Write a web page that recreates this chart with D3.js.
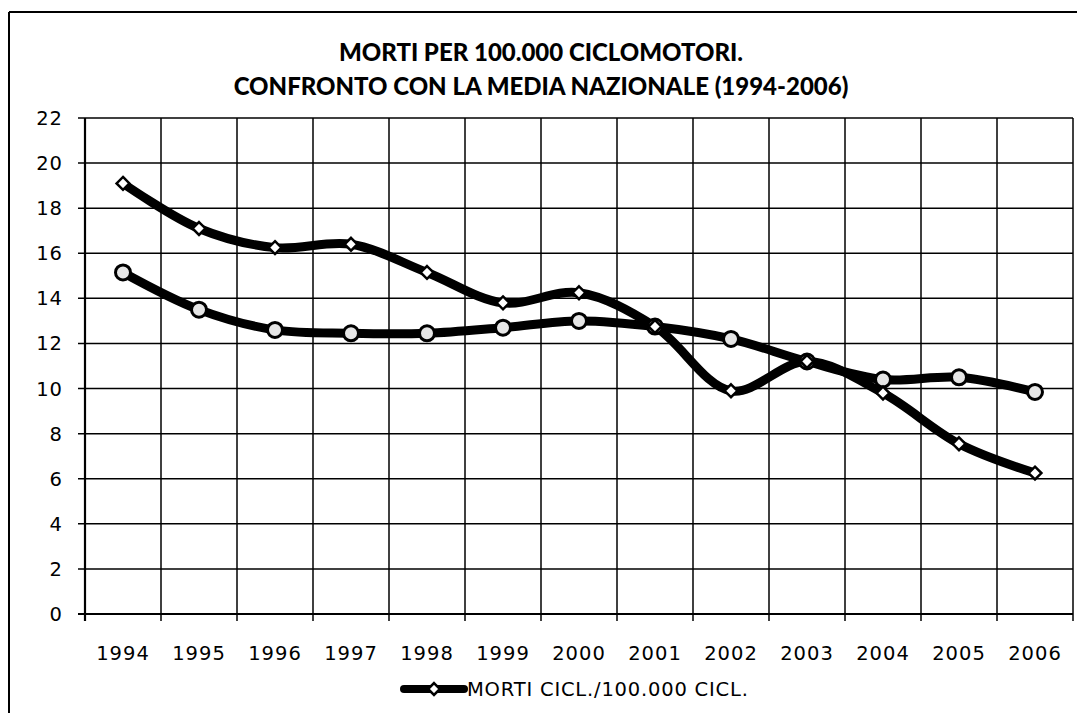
<!DOCTYPE html>
<html>
<head>
<meta charset="utf-8">
<script src="https://cdn.jsdelivr.net/npm/d3@7"></script>
<style>
  body { margin: 0; background: #fff; }
  svg { display: block; }
</style>
</head>
<body>
<div id="chart"></div>
<script>
// data
const years = ["1994", "1995", "1996", "1997", "1998", "1999", "2000", "2001", "2002", "2003", "2004", "2005", "2006"];
const mortiCicl = [19.1, 17.1, 16.25, 16.4, 15.15, 13.8, 14.25, 12.75, 9.9, 11.2, 9.8, 7.55, 6.25];
const mediaNazionale = [15.15, 13.5, 12.6, 12.45, 12.45, 12.7, 13.0, 12.75, 12.2, 11.2, 10.4, 10.5, 9.85];
const yTicks = [0, 2, 4, 6, 8, 10, 12, 14, 16, 18, 20, 22];
const titleLines = ["MORTI PER 100.000 CICLOMOTORI.", "CONFRONTO CON LA MEDIA NAZIONALE (1994-2006)"];
const legendLabel = "MORTI CICL./100.000 CICL.";

const width = 1077, height = 713;
const margin = { top: 118, right: 4, bottom: 99, left: 85 };
const titleFont = "Lato, 'DejaVu Sans', sans-serif";
const font = "'DejaVu Sans', sans-serif";

const svg = d3.select("#chart")
  .append("svg")
  .attr("width", width)
  .attr("height", height);

//outer frame (only top and left visible in the scan)
svg.append("line")
  .attr("x1", 9).attr("x2", width).attr("y1", 12).attr("y2", 12)
  .attr("stroke", "#000").attr("stroke-width", 2);
svg.append("line")
  .attr("x1", 9).attr("x2", 9).attr("y1", 12).attr("y2", height)
  .attr("stroke", "#000").attr("stroke-width", 2);

//title
svg.append("text")
  .attr("text-anchor", "middle")
  .style("font-family", titleFont)
  .style("font-weight", "900")
  .style("font-size", "24px")
  .selectAll("tspan")
  .data(titleLines)
  .enter()
  .append("tspan")
  .attr("x", 541)
  .attr("y", (d, i) => 61 + i * 34)
  .text((d) => d);

const plotW = width - margin.left - margin.right;
const plotH = height - margin.top - margin.bottom;

const g = svg.append("g")
  .attr("transform", "translate(" + margin.left + "," + margin.top + ")");

//scales
const x = d3.scaleBand()
  .domain(years)
  .range([0, plotW]);

const y = d3.scaleLinear()
  .domain([0, 22])
  .range([plotH, 0]);

//horizontal grid
g.selectAll(".hgrid")
  .data(yTicks)
  .enter()
  .append("line")
  .attr("x1", -7)
  .attr("x2", plotW)
  .attr("y1", (d) => y(d))
  .attr("y2", (d) => y(d))
  .attr("stroke", "#000")
  .attr("stroke-width", (d) => (d === 0 ? 2.2 : 1.5));

//vertical grid at category boundaries
const bounds = years.map((d) => x(d)).concat([plotW]);
g.selectAll(".vgrid")
  .data(bounds)
  .enter()
  .append("line")
  .attr("x1", (d) => d)
  .attr("x2", (d) => d)
  .attr("y1", 0)
  .attr("y2", plotH + 7)
  .attr("stroke", "#000")
  .attr("stroke-width", (d, i) => (i === 0 ? 2.2 : 1.5));

//y axis labels
g.selectAll(".ylab")
  .data(yTicks)
  .enter()
  .append("text")
  .attr("x", -22)
  .attr("y", (d) => y(d))
  .attr("dy", "0.36em")
  .attr("text-anchor", "end")
  .style("font-family", font)
  .style("font-size", "19.5px")
  .style("letter-spacing", "1px")
  .text((d) => d);

//x axis labels
g.selectAll(".xlab")
  .data(years)
  .enter()
  .append("text")
  .attr("x", (d) => x(d) + x.bandwidth() / 2)
  .attr("y", plotH + 46)
  .attr("text-anchor", "middle")
  .style("font-family", font)
  .style("font-size", "19.5px")
  .style("letter-spacing", "1px")
  .text((d) => d);

//lines (smoothed like the excel original)
const line = d3.line()
  .x((d, i) => x(years[i]) + x.bandwidth() / 2)
  .y((d) => y(d))
  .curve(d3.curveCatmullRom.alpha(0.5));

[mediaNazionale, mortiCicl].forEach((series) => {
  g.append("path")
    .datum(series)
    .attr("d", line)
    .attr("fill", "none")
    .attr("stroke", "#000")
    .attr("stroke-width", 9)
    .attr("stroke-linejoin", "round")
    .attr("stroke-linecap", "round");
});

//circle markers
g.selectAll(".circ")
  .data(mediaNazionale)
  .enter()
  .append("circle")
  .attr("cx", (d, i) => x(years[i]) + x.bandwidth() / 2)
  .attr("cy", (d) => y(d))
  .attr("r", 7.5)
  .attr("fill", "#e6e6e6")
  .attr("stroke", "#000")
  .attr("stroke-width", 3);

//diamond markers
const diamond = d3.symbol().type(d3.symbolDiamond2).size(105);
g.selectAll(".diam")
  .data(mortiCicl)
  .enter()
  .append("path")
  .attr("d", diamond)
  .attr("transform", (d, i) => "translate(" + (x(years[i]) + x.bandwidth() / 2) + "," + y(d) + ")")
  .attr("fill", "#fff")
  .attr("stroke", "#000")
  .attr("stroke-width", 2.5);

//legend
const legend = svg.append("g").attr("transform", "translate(404,689)");
legend.append("line")
  .attr("x1", 0).attr("x2", 60)
  .attr("y1", 0).attr("y2", 0)
  .attr("stroke", "#000")
  .attr("stroke-width", 8)
  .attr("stroke-linecap", "round");
legend.append("path")
  .attr("d", d3.symbol().type(d3.symbolDiamond2).size(90))
  .attr("transform", "translate(30,0)")
  .attr("fill", "#fff")
  .attr("stroke", "#000")
  .attr("stroke-width", 2.5);
legend.append("text")
  .attr("x", 63)
  .attr("y", 0)
  .attr("dy", "0.36em")
  .style("font-family", font)
  .style("font-size", "19.5px")
  .style("letter-spacing", "0.8px")
  .text(legendLabel);
</script>
</body>
</html>
